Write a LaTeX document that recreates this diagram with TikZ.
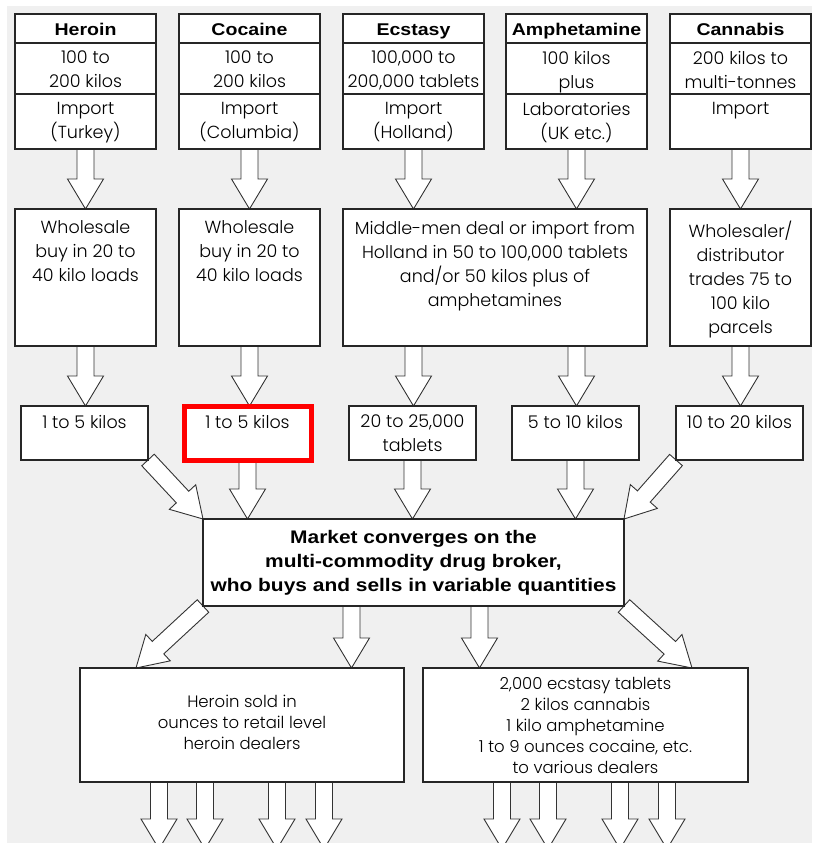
\documentclass[tikz,border=0pt]{standalone}
\usepackage{fontspec}
\newfontfamily\bodyfont{Poppins Light}
\newfontfamily\headfont[FakeStretch=1.15]{Liberation Sans}
\usetikzlibrary{positioning, calc, backgrounds}

\definecolor{bggray}{RGB}{240,240,240}

% hollow block arrow from #1 to #2
\newcommand{\fatarrow}[2]{%
  \coordinate (fa-a) at (#1);
  \coordinate (fa-b) at (#2);
  \coordinate (fa-n) at ($(fa-b)!30pt!(fa-a)$);
  \draw[fatline] ($(fa-a)!8.5pt!90:(fa-b)$) -- ($(fa-n)!8.5pt!90:(fa-b)$)
    -- ($(fa-n)!18pt!90:(fa-b)$) -- (fa-b) -- ($(fa-n)!18pt!-90:(fa-b)$)
    -- ($(fa-n)!8.5pt!-90:(fa-b)$) -- ($(fa-a)!8.5pt!-90:(fa-b)$) -- cycle;}

% box contents: top aligned / centred
\newcommand{\topcell}[4][8pt]{\parbox[c][#3][t]{#2}{\centering\vspace*{#1}#4}}
\newcommand{\midcell}[3]{\parbox[c][#2][c]{#1}{\centering #3}}

\begin{document}
\begin{tikzpicture}[
    x=1pt, y=-1pt,
    font=\bodyfont\fontsize{17.5}{24}\selectfont,
    cell/.style={draw=black!85, line width=1.2pt, fill=white, inner sep=0pt, outer sep=0pt, anchor=north west},
    title/.style={cell, minimum width=141pt, minimum height=29pt, text height=14pt, text depth=-4pt,
                  font=\headfont\bfseries\fontsize{17}{20}\selectfont},
    retail/.style={cell, font=\bodyfont\fontsize{16.5}{21}\selectfont},
    hl/.style={draw=red, line width=5pt},
    fatline/.style={draw=black!80, fill=white, line width=0.9pt, line join=miter}
]

  \useasboundingbox (0,0) rectangle (812,843);

  % Top row (one card per drug)
  \node[title] (her-name) at (15,14) {Heroin};
  \node[cell, below=0pt of her-name] (her-qty) {\topcell{141pt}{51pt}{100 to\\200 kilos}};
  \node[cell, below=0pt of her-qty] (her-src) {\topcell{141pt}{55pt}{Import\\(Turkey)}};

  \node[title] (coc-name) at (179,14) {Cocaine};
  \node[cell, below=0pt of coc-name] (coc-qty) {\topcell{141pt}{51pt}{100 to\\200 kilos}};
  \node[cell, below=0pt of coc-qty] (coc-src) {\topcell{141pt}{55pt}{Import\\(Columbia)}};

  \node[title] (ecs-name) at (343,14) {Ecstasy};
  \node[cell, below=0pt of ecs-name] (ecs-qty) {\topcell{141pt}{51pt}{100,000 to\\200,000 tablets}};
  \node[cell, below=0pt of ecs-qty] (ecs-src) {\topcell{141pt}{55pt}{Import\\(Holland)}};

  \node[title] (amp-name) at (506,14) {Amphetamine};
  \node[cell, below=0pt of amp-name] (amp-qty) {\topcell{141pt}{51pt}{100 kilos\\plus}};
  \node[cell, below=0pt of amp-qty] (amp-src) {\topcell{141pt}{55pt}{Laboratories\\(UK etc.)}};

  \node[title] (can-name) at (670,14) {Cannabis};
  \node[cell, below=0pt of can-name] (can-qty) {\topcell{141pt}{51pt}{200 kilos to\\multi-tonnes}};
  \node[cell, below=0pt of can-qty] (can-src) {\topcell{141pt}{55pt}{Import}};

  % Wholesale level
  \node[cell] (her-buy) at (15,209) {\topcell[12pt]{141pt}{137pt}{Wholesale\\buy in 20 to\\40 kilo loads}};
  \node[cell] (coc-buy) at (179,209) {\topcell[12pt]{141pt}{137pt}{Wholesale\\buy in 20 to\\40 kilo loads}};
  \node[cell] (mid-buy) at (343,209) {\topcell[12pt]{304pt}{137pt}{Middle-men deal or import from\\Holland in 50 to 100,000 tablets\\and/or 50 kilos plus of\\amphetamines}};
  \node[cell] (can-buy) at (670,209) {\topcell[12pt]{141pt}{137pt}{Wholesaler/\\distributor\\trades 75 to\\100 kilo\\parcels}};

  % Lots sold on
  \node[cell] (her-lot) at (21,406) {\topcell[9pt]{127pt}{54pt}{1 to 5 kilos}};
  \node[cell, hl] (coc-lot) at (184,406) {\topcell[9pt]{127pt}{54pt}{1 to 5 kilos}};
  \node[cell] (ecs-lot) at (349,406) {\topcell[9pt]{127pt}{54pt}{20 to 25,000\\tablets}};
  \node[cell] (amp-lot) at (512,406) {\topcell[9pt]{127pt}{54pt}{5 to 10 kilos}};
  \node[cell] (can-lot) at (676,406) {\topcell[9pt]{127pt}{54pt}{10 to 20 kilos}};

  % Broker
  \node[cell, font=\headfont\bfseries\fontsize{18.2}{24}\selectfont] (mk) at (203,519)
    {\midcell{421pt}{87pt}{Market converges on the\\multi-commodity drug broker,\\who buys and sells in variable quantities}};

  % Retail side
  \node[retail] (dl) at (80,668)
    {\midcell{324pt}{114pt}{Heroin sold in\\ounces to retail level\\heroin dealers\\[5pt]}};
  \node[retail] (dr) at (423,668)
    {\midcell{325pt}{114pt}{2,000 ecstasy tablets\\2 kilos cannabis\\1 kilo amphetamine\\1 to 9 ounces cocaine, etc.\\to various dealers}};

  \begin{pgfonlayer}{background}
    \fill[bggray] (7,6) rectangle (812,843);

    % import -> wholesale -> lots
    \foreach \d in {her,coc,can} {
      \fatarrow{\d-src.south}{\d-src.south |- \d-buy.north}
      \fatarrow{\d-src.south |- \d-buy.south}{\d-src.south |- \d-lot.north}
    }
    \foreach \d in {ecs,amp} {
      \fatarrow{\d-src.south}{\d-src.south |- mid-buy.north}
      \fatarrow{\d-src.south |- mid-buy.south}{\d-src.south |- \d-lot.north}
    }

    % lots -> broker
    \foreach \d in {coc,ecs,amp} {
      \fatarrow{\d-lot.south}{\d-lot.south |- mk.north}
    }
    \fatarrow{her-lot.south east}{mk.north west}
    \fatarrow{can-lot.south west}{mk.north east}

    % broker -> dealers
    \coordinate (mk-l) at ($(mk.south)+(-62,0)$);
    \coordinate (mk-r) at ($(mk.south)+(66,0)$);
    \coordinate (dl-in) at ($(dl.north west)+(56,0)$);
    \coordinate (dr-in) at ($(dr.north east)+(-56,0)$);
    \fatarrow{mk.south west}{dl-in}
    \fatarrow{mk-l}{mk-l |- dl.north}
    \fatarrow{mk-r}{mk-r |- dr.north}
    \fatarrow{mk.south east}{dr-in}

    % out to the street
    \foreach \b in {dl,dr} {
      \foreach \dx in {79,125,197,244} {
        \coordinate (out-t) at ($(\b.south west)+(\dx,0)$);
        \coordinate (out-e) at ($(out-t)+(0,67)$);
        \fatarrow{out-t}{out-e}
      }
    }
  \end{pgfonlayer}

\end{tikzpicture}
\end{document}
